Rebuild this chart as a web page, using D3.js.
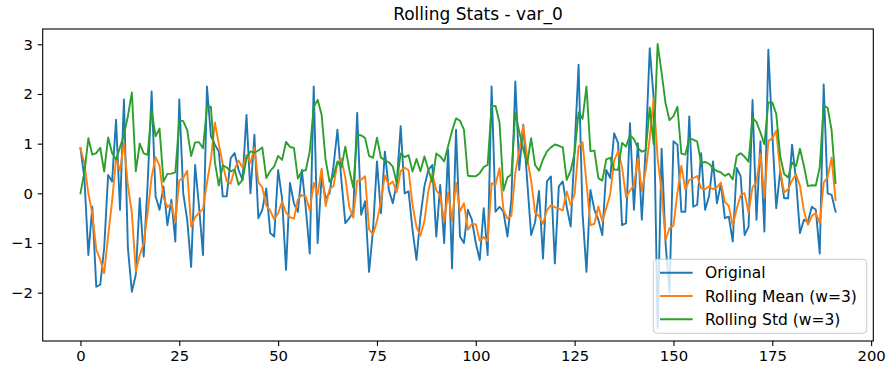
<!DOCTYPE html>
<html>
<head>
<meta charset="utf-8">
<script src="https://cdn.jsdelivr.net/npm/d3@7"></script>
<style>
  html, body { margin: 0; padding: 0; background: #fff; }
  svg { display: block; font-family: "DejaVu Sans", sans-serif; }
</style>
</head>
<body>
<svg id="chart" width="889" height="373"></svg>
<script>
// Raw observations of var_0 (index 0..191)
const original = [
  0.91, 0.30, -1.24, -0.27, -1.88, -1.84, -1.10, 0.37, 0.24, 1.48,
  -0.33, 1.89, -1.10, -1.98, -1.64, -0.10, -1.27, 0.20, 2.05, -0.06,
  -0.33, 0.14, -0.64, -0.13, -0.97, 1.89, 0.00, -0.53, -1.48, 0.57,
  -0.27, -1.24, 2.15, 1.15, 0.98, 0.84, -0.06, -0.06, 0.71, 0.81,
  0.47, 0.27, 1.58, 0.00, 1.18, -0.50, -0.33, 0.10, -0.80, -0.87,
  0.47, -0.10, -1.54, 0.21, -0.20, -0.37, 0.47, -0.30, -1.21, 2.15,
  -1.00, 0.34, -0.10, 0.00, 0.54, 1.28, 0.27, -0.60, -0.50, -0.37,
  1.62, -0.43, -0.16, -1.58, -0.74, 0.64, -0.40, 0.84, 0.07, -0.20,
  0.20, 1.35, 0.00, 0.04, -0.74, -1.34, -0.47, 0.14, 0.47, 0.57,
  -0.87, 0.17, -1.00, 0.88, -1.51, 1.28, -0.87, -1.00, -0.33, -0.53,
  -1.00, -1.34, -0.30, -1.24, 2.15, -0.37, -0.27, -0.37, -0.87, -0.13,
  2.25, 0.47, 1.38, 0.25, -0.84, -0.58, 0.05, -1.31, 0.24, 0.34,
  -1.41, 0.14, 0.24, -0.27, -0.67, 0.90, 2.59, -0.40, -1.58, 0.07,
  -0.33, -0.53, -0.84, 0.47, 0.31, 1.21, 1.01, -0.64, -0.60, 1.41,
  -0.33, 1.01, -0.53, 0.94, 2.92, 1.90, -2.72, 0.90, -1.00, -2.00,
  1.05, 0.98, -0.37, -0.37, 1.55, -0.27, -0.23, 0.81, -0.33, -0.06,
  0.64, -0.20, 0.20, -0.50, -0.47, -0.97, 0.51, 0.34, -0.84, -0.67,
  1.88, -0.53, 1.05, -0.77, 2.89, 1.20, -0.30, 0.45, -0.10, -0.10,
  0.98, 0.27, -0.80, -0.53, -0.57, -0.27, -0.33, -1.21, 2.19, 0.00,
  -0.03, -0.37
];
const windowSize = 3;
const xTicks = [0, 25, 50, 75, 100, 125, 150, 175, 200];
const yTicks = [-2, -1, 0, 1, 2, 3];
const seriesNames = ["Original", "Rolling Mean (w=3)", "Rolling Std (w=3)"];
const seriesColors = ["#1f77b4", "#ff7f0e", "#2ca02c"];

// Trailing window statistics (min_periods = 1; a single value has std 0)
const rollingMean = original.map((_, i) =>
  d3.mean(original.slice(Math.max(0, i - windowSize + 1), i + 1)));
const rollingStd = original.map((_, i) => {
  const w = original.slice(Math.max(0, i - windowSize + 1), i + 1);
  return w.length < 2 ? 0 : d3.deviation(w);
});
const series = [original, rollingMean, rollingStd];

const svg = d3.select("#chart");
const plot = { left: 42.7, right: 873.3, top: 29, bottom: 341 };

const x = d3.scaleLinear().domain([-9.55, 200.55]).range([plot.left, plot.right]);
const y = d3.scaleLinear().domain([-2.972, 3.308]).range([plot.bottom, plot.top]);

svg.append("defs").append("clipPath").attr("id", "plotClip")
  .append("rect")
  .attr("x", plot.left).attr("y", plot.top)
  .attr("width", plot.right - plot.left).attr("height", plot.bottom - plot.top);

// Lines
const line = d3.line().x((d, i) => x(i)).y(d => y(d));
const lines = svg.append("g").attr("clip-path", "url(#plotClip)");
series.forEach((s, k) => {
  lines.append("path")
    .datum(s)
    .attr("fill", "none")
    .attr("stroke", seriesColors[k])
    .attr("stroke-width", 1.9)
    .attr("stroke-linejoin", "round")
    .attr("stroke-linecap", "square")
    .attr("d", line);
});

// Axes
const fmt = d => (d < 0 ? "\u2212" + Math.abs(d) : String(d));
const xAxis = svg.append("g")
  .attr("transform", `translate(0,${plot.bottom})`)
  .call(d3.axisBottom(x).tickValues(xTicks).tickFormat(fmt).tickSize(4.9).tickPadding(4.5));
const yAxis = svg.append("g")
  .attr("transform", `translate(${plot.left},0)`)
  .call(d3.axisLeft(y).tickValues(yTicks).tickFormat(fmt).tickSize(4.9).tickPadding(5));
[xAxis, yAxis].forEach(a => {
  a.select(".domain").remove();
  a.selectAll(".tick line").attr("stroke", "#000").attr("stroke-width", 1.1);
  a.selectAll(".tick text")
    .attr("fill", "#000")
    .style("font-family", "'DejaVu Sans', sans-serif")
    .style("font-size", "14.8px");
});

// Frame
svg.append("rect")
  .attr("x", plot.left).attr("y", plot.top)
  .attr("width", plot.right - plot.left).attr("height", plot.bottom - plot.top)
  .attr("fill", "none").attr("stroke", "#000").attr("stroke-width", 1.1);

// Title
svg.append("text")
  .attr("x", 478)
  .attr("y", 20)
  .attr("text-anchor", "middle")
  .style("font-size", "17px")
  .attr("fill", "#000")
  .text("Rolling Stats - var_0");

// Legend
const legend = svg.append("g");
legend.append("rect")
  .attr("x", 653.3).attr("y", 259.3)
  .attr("width", 213.4).attr("height", 74)
  .attr("rx", 3.5).attr("ry", 3.5)
  .attr("fill", "#fff").attr("fill-opacity", 0.8)
  .attr("stroke", "#cccccc").attr("stroke-width", 1);
seriesNames.forEach((name, k) => {
  const cy = 272.7 + k * 23.3;
  legend.append("line")
    .attr("x1", 660).attr("x2", 692.7)
    .attr("y1", cy).attr("y2", cy)
    .attr("stroke", seriesColors[k]).attr("stroke-width", 1.9);
  legend.append("text")
    .attr("x", 705).attr("y", cy)
    .attr("dy", "0.36em")
    .style("font-size", "15.5px")
    .attr("fill", "#000")
    .text(name);
});
</script>
</body>
</html>
